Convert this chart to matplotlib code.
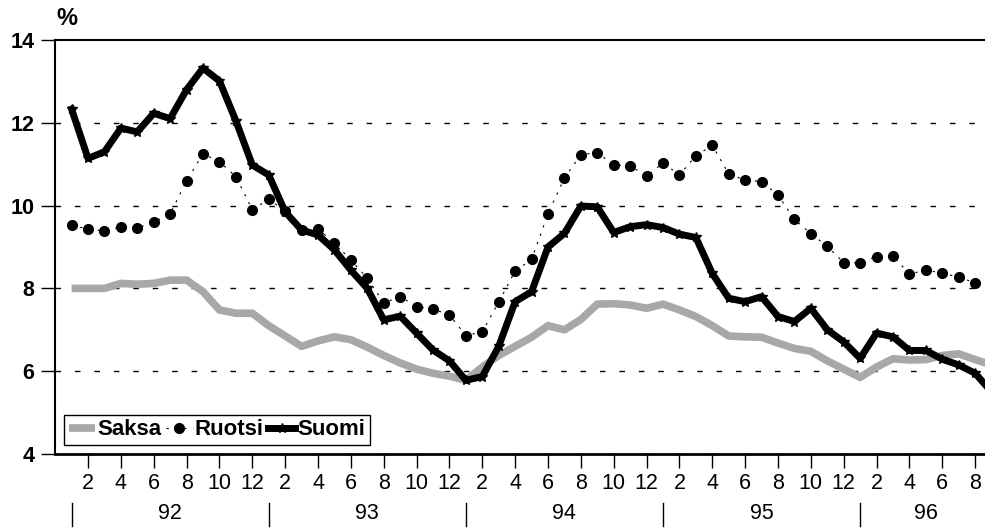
import numpy as np
import matplotlib.pyplot as plt

# kuukausittaiset korot 1/92 - 9/96, %
saksa = [8.0, 8.0, 8.0, 8.12, 8.1, 8.12, 8.2, 8.2, 7.92, 7.48,
         7.4, 7.4, 7.1, 6.85, 6.6, 6.73, 6.83, 6.76, 6.58, 6.38,
         6.2, 6.05, 5.95, 5.88, 5.78, 6.1, 6.38, 6.6, 6.82, 7.1,
         7.0, 7.25, 7.62, 7.63, 7.6, 7.52, 7.62, 7.48, 7.32, 7.1,
         6.85, 6.83, 6.82, 6.68, 6.55, 6.48, 6.25, 6.05, 5.85, 6.1,
         6.3, 6.27, 6.28, 6.38, 6.42, 6.28, 6.15]
ruotsi = [9.53, 9.43, 9.39, 9.48, 9.46, 9.6, 9.8, 10.6, 11.25, 11.06,
          10.7, 9.9, 10.15, 9.88, 9.4, 9.43, 9.1, 8.68, 8.25, 7.65,
          7.8, 7.56, 7.5, 7.36, 6.86, 6.95, 7.67, 8.42, 8.7, 9.8,
          10.67, 11.23, 11.28, 10.98, 10.96, 10.71, 11.03, 10.74, 11.2, 11.46,
          10.76, 10.62, 10.58, 10.25, 9.67, 9.32, 9.02, 8.62, 8.62, 8.77,
          8.79, 8.34, 8.45, 8.36, 8.28, 8.13]
suomi = [12.33, 11.14, 11.3, 11.87, 11.78, 12.23, 12.1, 12.8, 13.32, 13.01,
         12.05, 10.98, 10.74, 9.85, 9.41, 9.29, 8.93, 8.44, 8.0, 7.24,
         7.33, 6.92, 6.51, 6.25, 5.78, 5.87, 6.6, 7.68, 7.92, 9.0,
         9.33, 9.99, 9.97, 9.35, 9.49, 9.54, 9.47, 9.31, 9.23, 8.36,
         7.76, 7.68, 7.8, 7.32, 7.2, 7.52, 7.0, 6.71, 6.31, 6.92,
         6.83, 6.5, 6.5, 6.29, 6.15, 5.95, 5.5]
years = ['92', '93', '94', '95', '96']
year_label_pos = [7, 19, 31, 43, 53]

plt.rcParams['font.family'] = ['Liberation Sans', 'DejaVu Sans']

fig = plt.figure(figsize=(9.85, 5.29), dpi=100)
ax = fig.add_axes([0.056, 0.1418, 0.944, 0.7826])

ax.plot(np.arange(1, len(saksa) + 1), saksa, color='#a8a8a8', lw=5.5,
        solid_capstyle='butt', label='Saksa', zorder=3)
ax.plot(np.arange(1, len(ruotsi) + 1), ruotsi, color='black', lw=0.8,
        ls=(0, (2, 6)), marker='o', ms=7, label='Ruotsi', zorder=4)
ax.plot(np.arange(1, len(suomi) + 1), suomi, color='black', lw=5,
        marker='*', ms=7, label='Suomi', zorder=5)

ax.set_xlim(0, 56.6)
ax.set_ylim(4, 14)

# y-akseli
ax.set_yticks([4, 6, 8, 10, 12, 14])
ax.set_yticklabels(['4', '6', '8', '10', '12', '14'], fontweight='bold', fontsize=15.5)
for y in [6, 8, 10, 12]:
    ax.axhline(y, color='black', lw=1, ls=(0, (4, 10)), zorder=1)

# x-akseli: parilliset kuukaudet
xt = np.arange(2, 57, 2)
ax.set_xticks(xt)
ax.set_xticklabels([str((m - 1) % 12 + 1) for m in xt], fontsize=15.5)
ax.tick_params(axis='x', direction='out', length=10, width=1, pad=4)
ax.tick_params(axis='y', direction='out', length=10, width=1, pad=5)

for s in ['left', 'top', 'bottom']:
    ax.spines[s].set_color('black')
ax.spines['left'].set_linewidth(1.5)
ax.spines['bottom'].set_linewidth(2)
ax.spines['top'].set_linewidth(1.5)
ax.spines['right'].set_visible(False)

trans = ax.get_xaxis_transform()
for i, y in enumerate(years):
    sep = 1 + 12 * i
    ax.plot([sep, sep], [-0.118, -0.173], color='black', lw=1,
            transform=trans, clip_on=False)
    ax.text(year_label_pos[i], -0.143, y, transform=trans, ha='center',
            va='center', fontsize=15.5)

fig.text(0.057, 0.965, '%', fontsize=17, fontweight='bold', ha='left', va='center')

leg = ax.legend(loc='lower left', bbox_to_anchor=(0.0097, 0.022), borderaxespad=0,
                ncol=3, fancybox=False, edgecolor='black', framealpha=1,
                handlelength=1.2, handletextpad=0.1, columnspacing=0.2,
                borderpad=0.2, prop={'weight': 'bold', 'size': 16})
leg.get_frame().set_linewidth(1)

fig.savefig('out.png', dpi=100)
